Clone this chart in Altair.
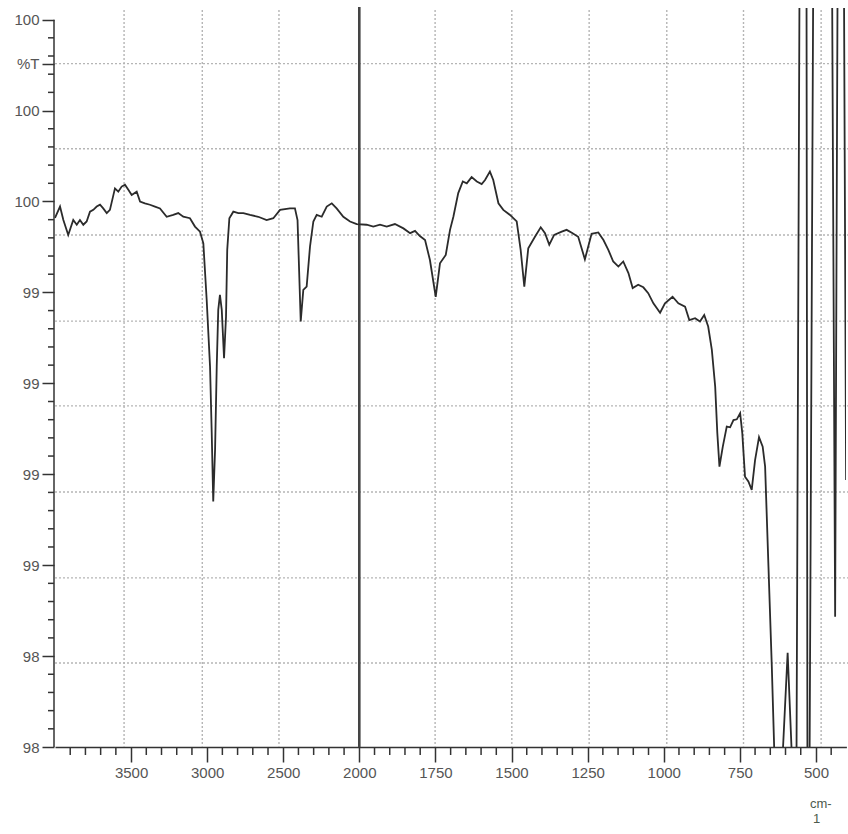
import altair as alt
import pandas as pd

# ---- spectrum (wavenumber cm-1, %T) ----
wavenumber = [4000, 3967, 3945, 3913, 3880, 3857, 3836, 3814, 3792, 3770, 3748, 3726, 3704, 3683,
              3660, 3639, 3606, 3584, 3562, 3540, 3518, 3496, 3463, 3441, 3409, 3376, 3343, 3310,
              3266, 3223, 3190, 3157, 3113, 3080, 3047, 3025, 3003, 2981, 2970, 2960, 2948, 2937,
              2927, 2916, 2904, 2889, 2876, 2868, 2854, 2828, 2795, 2762, 2718, 2664, 2609, 2565,
              2521, 2456, 2423, 2406, 2385, 2368, 2346, 2324, 2302, 2280, 2247, 2214, 2181, 2149,
              2105, 2061, 2017, 1976, 1954, 1932, 1910, 1883, 1855, 1833, 1817, 1801, 1784, 1768,
              1749, 1735, 1716, 1702, 1691, 1675, 1660, 1647, 1631, 1614, 1598, 1587, 1571, 1560,
              1543, 1527, 1505, 1483, 1470, 1458, 1445, 1423, 1404, 1390, 1376, 1360, 1335, 1319,
              1302, 1281, 1259, 1237, 1215, 1198, 1182, 1166, 1149, 1133, 1116, 1102, 1084, 1067,
              1051, 1034, 1012, 996, 971, 952, 930, 916, 897, 881, 867, 854, 842, 831, 824, 817,
              806, 793, 782, 771, 760, 749, 742, 733, 722, 711, 700, 687, 675, 667, 656, 645, 636,
              625, 611, 593, 578, 564, 554, 531, 528, 521, 509, 447, 437, 429, 408, 401]
transmittance = [99.455, 99.486, 99.449, 99.408, 99.449, 99.436, 99.449, 99.436, 99.445, 99.472,
                 99.477, 99.486, 99.491, 99.481, 99.468, 99.477, 99.536, 99.527, 99.541, 99.546,
                 99.532, 99.518, 99.527, 99.500, 99.495, 99.491, 99.486, 99.481, 99.458, 99.463,
                 99.468, 99.458, 99.454, 99.431, 99.417, 99.385, 99.229, 99.046, 98.864, 98.675,
                 98.817, 99.046, 99.202, 99.243, 99.202, 99.069, 99.183, 99.367, 99.454, 99.472,
                 99.468, 99.468, 99.463, 99.458, 99.449, 99.454, 99.477, 99.481, 99.481, 99.449,
                 99.170, 99.257, 99.266, 99.376, 99.445, 99.463, 99.458, 99.486, 99.495, 99.481,
                 99.458, 99.445, 99.438, 99.436, 99.431, 99.436, 99.431, 99.438, 99.426, 99.413,
                 99.419, 99.405, 99.394, 99.339, 99.238, 99.330, 99.353, 99.422, 99.458, 99.523,
                 99.555, 99.550, 99.567, 99.555, 99.548, 99.559, 99.582, 99.559, 99.495, 99.477,
                 99.463, 99.445, 99.367, 99.266, 99.371, 99.403, 99.429, 99.413, 99.381, 99.408,
                 99.417, 99.422, 99.414, 99.403, 99.341, 99.411, 99.415, 99.394, 99.367, 99.335,
                 99.321, 99.335, 99.303, 99.262, 99.271, 99.264, 99.248, 99.220, 99.194, 99.220,
                 99.238, 99.220, 99.211, 99.174, 99.179, 99.170, 99.188, 99.156, 99.092, 98.991,
                 98.863, 98.771, 98.826, 98.881, 98.879, 98.899, 98.901, 98.918, 98.863, 98.743,
                 98.730, 98.707, 98.789, 98.852, 98.826, 98.771, 98.496, 98.221, 97.964,
                 97.950, 97.950, 98.259, 97.950, 97.950, 100.10, 100.10, 97.950, 97.950, 100.10,
                 100.10, 98.358, 100.10, 100.10, 98.734]

# ---- axes / grid values ----
x_major = [3500, 3000, 2500, 2000, 1750, 1500, 1250, 1000, 750, 500]
x_minor = [3900, 3800, 3700, 3600, 3400, 3300, 3200, 3100, 2900, 2800, 2700, 2600,
           2400, 2300, 2200, 2100, 1950, 1900, 1850, 1800, 1700, 1650, 1600, 1550,
           1450, 1400, 1350, 1300, 1200, 1150, 1100, 1050, 950, 900, 850, 800,
           700, 650, 600, 550, 450]
y_major = [98.0, 98.25, 98.5, 98.75, 99.0, 99.25, 99.5, 99.75, 100.0]
y_unit_label = 99.879
y_minor = [98.05, 98.1, 98.15, 98.2, 98.3, 98.35, 98.4, 98.45, 98.55, 98.6, 98.65, 98.7,
           98.8, 98.85, 98.9, 98.95, 99.05, 99.1, 99.15, 99.2, 99.3, 99.35, 99.4, 99.45,
           99.55, 99.6, 99.65, 99.7, 99.8, 99.85, 99.9, 99.95]
grid_x = [3546, 3032, 2528, 1751, 1499, 1245, 990, 738, 483]
grid_y = [98.231, 98.465, 98.701, 98.938, 99.171, 99.408, 99.645, 99.879]
break_at = [2000]

W, H = 792, 739
INK = "#333333"
LABEL = "#555555"
FONT = "Liberation Sans"

spec = pd.DataFrame({"wn": wavenumber, "t": transmittance, "i": range(len(wavenumber))})

xscale = alt.Scale(domain=[4000, 2000, 400], range=[1, 305.3, 792.4], nice=False, zero=False)
yscale = alt.Scale(domain=[98.0, 100.032], nice=False, zero=False)

xaxis = alt.Axis(values=x_major, format="d", tickSize=15, tickWidth=1.5, tickColor=INK,
                 domain=True, domainColor=INK, domainWidth=1.5, grid=False,
                 labelFont=FONT, labelFontSize=15, labelColor=LABEL, labelPadding=3,
                 title=None)
yaxis = alt.Axis(values=y_major + [y_unit_label], tickSize=12, tickWidth=1.5, tickColor=INK,
                 domain=False, grid=False, labelFont=FONT, labelFontSize=15,
                 labelColor=LABEL, labelPadding=3,
                 labelExpr="abs(datum.value - 99.879) < 0.005 ? '%T' : format(datum.value, '.0f')",
                 title=None)

line = alt.Chart(spec).mark_line(color="#2b2b2b", strokeWidth=1.8, clip=True).encode(
    x=alt.X("wn:Q", scale=xscale, axis=xaxis),
    y=alt.Y("t:Q", scale=yscale, axis=yaxis),
    order="i:Q",
)

gx = alt.Chart(pd.DataFrame({"g": grid_x})).mark_rule(
    color="#b5b5b5", strokeDash=[2, 2], strokeWidth=1.4).encode(
    x=alt.X("g:Q", scale=xscale), y=alt.value(2), y2=alt.value(H))

gy = alt.Chart(pd.DataFrame({"g": grid_y})).mark_rule(
    color="#b5b5b5", strokeDash=[2, 2], strokeWidth=1.4).encode(
    y=alt.Y("g:Q", scale=yscale), x=alt.value(1), x2=alt.value(W + 2))

brk = alt.Chart(pd.DataFrame({"b": break_at})).mark_rule(
    color="#444444", strokeWidth=2.6).encode(
    x=alt.X("b:Q", scale=xscale), y=alt.value(-1), y2=alt.value(H))

ymin_ticks = alt.Chart(pd.DataFrame({"v": y_minor})).mark_rule(
    color=INK, strokeWidth=1.5).encode(
    y=alt.Y("v:Q", scale=yscale), x=alt.value(-6), x2=alt.value(0))

xmin_ticks = alt.Chart(pd.DataFrame({"v": x_minor})).mark_rule(
    color=INK, strokeWidth=1.5).encode(
    x=alt.X("v:Q", scale=xscale), y=alt.value(H), y2=alt.value(H + 8))

yline = alt.Chart(pd.DataFrame({"lo": [y_major[0]], "hi": [y_major[-1]]})).mark_rule(
    color=INK, strokeWidth=1.5).encode(
    y=alt.Y("lo:Q", scale=yscale), y2="hi:Q", x=alt.value(0))

unit1 = alt.Chart(pd.DataFrame({"s": ["cm-"]})).mark_text(
    align="left", baseline="alphabetic", font=FONT, fontSize=13, color="#4d5a4d").encode(
    text="s:N", x=alt.value(756), y=alt.value(800))
unit2 = alt.Chart(pd.DataFrame({"s": ["1"]})).mark_text(
    align="left", baseline="alphabetic", font=FONT, fontSize=13, color="#4d5a4d").encode(
    text="s:N", x=alt.value(759), y=alt.value(815))

chart = alt.layer(gx, gy, brk, line, ymin_ticks, xmin_ticks, yline, unit1, unit2).properties(
    width=W, height=H,
    autosize=alt.AutoSizeParams(type="none"),
    padding={"left": 54, "top": 8, "right": 2, "bottom": 87},
    background="white",
).configure_view(stroke=None)

chart.save("out.html", embed_options={"renderer": "svg", "actions": False})
